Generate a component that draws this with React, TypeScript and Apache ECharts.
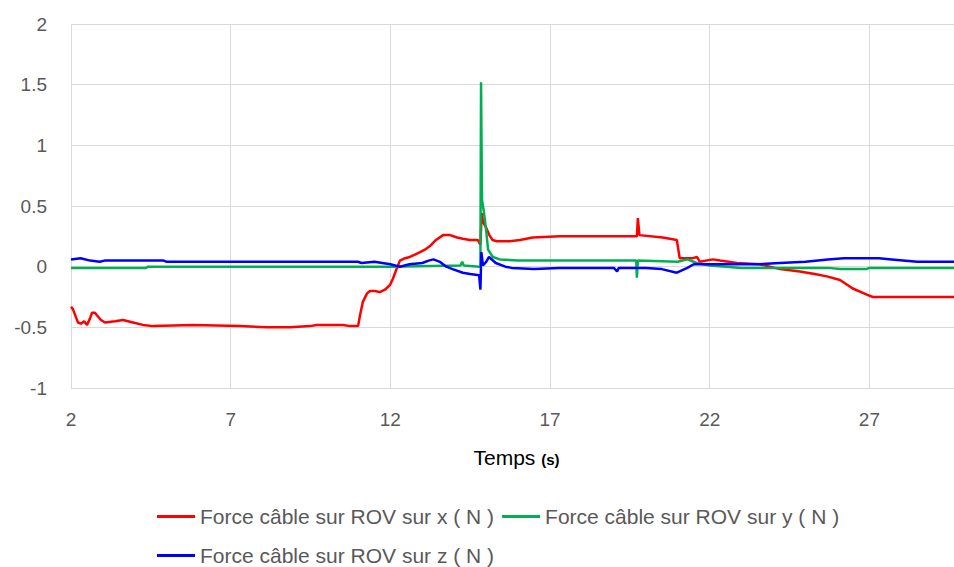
import React, { useEffect, useRef } from "react";
import * as echarts from "echarts";

// time (s) and force (N) for each series
const xTime = [2.0, 2.06, 2.16, 2.22, 2.31, 2.41, 2.5, 2.59, 2.66, 2.75, 2.81, 2.94, 3.06, 3.38, 3.63, 3.94, 4.25, 4.57, 5.82, 7.29, 8.14, 8.86, 9.48, 9.7, 10.52, 10.74, 10.99, 11.05, 11.14, 11.27, 11.36, 11.52, 11.67, 11.83, 11.99, 12.08, 12.18, 12.3, 12.46, 12.61, 12.77, 12.93, 13.08, 13.24, 13.43, 13.65, 13.87, 14.09, 14.27, 14.49, 14.74, 14.82, 14.86, 14.88, 14.92, 15.0, 15.1, 15.2, 15.34, 15.74, 16.06, 16.46, 17.31, 18.56, 19.72, 19.75, 19.8, 20.53, 20.97, 21.06, 21.47, 21.6, 21.69, 22.1, 22.32, 22.85, 23.57, 24.2, 24.82, 25.29, 25.67, 26.08, 26.48, 26.92, 27.11, 29.65];
const xForce = [-0.33, -0.35, -0.42, -0.46, -0.47, -0.45, -0.48, -0.43, -0.38, -0.38, -0.4, -0.44, -0.46, -0.45, -0.44, -0.46, -0.48, -0.49, -0.48, -0.49, -0.5, -0.5, -0.49, -0.48, -0.48, -0.49, -0.49, -0.4, -0.29, -0.22, -0.2, -0.2, -0.21, -0.19, -0.15, -0.1, -0.03, 0.05, 0.07, 0.08, 0.1, 0.12, 0.14, 0.17, 0.22, 0.26, 0.26, 0.24, 0.23, 0.22, 0.22, 0.18, 0.44, 0.4, 0.36, 0.32, 0.26, 0.22, 0.21, 0.21, 0.22, 0.24, 0.25, 0.25, 0.25, 0.4, 0.26, 0.24, 0.22, 0.07, 0.07, 0.08, 0.04, 0.06, 0.05, 0.03, 0.02, -0.02, -0.04, -0.06, -0.08, -0.11, -0.18, -0.23, -0.25, -0.25];

const yTime = [2.0, 4.35, 4.4, 12.0, 14.2, 14.25, 14.3, 14.78, 14.82, 14.84, 14.87, 14.93, 15.0, 15.06, 15.21, 15.43, 16.0, 17.3, 19.7, 19.72, 19.75, 21.0, 21.3, 21.6, 22.0, 23.0, 25.7, 26.1, 26.9, 27.0, 29.65];
const yForce = [-0.01, -0.01, 0.0, 0.0, 0.01, 0.04, 0.01, 0.0, 0.0, 1.52, 0.55, 0.45, 0.3, 0.14, 0.08, 0.06, 0.05, 0.05, 0.05, -0.09, 0.05, 0.04, 0.06, 0.03, 0.01, -0.01, -0.01, -0.02, -0.02, -0.01, -0.01];

const zTime = [2.0, 2.3, 2.6, 2.9, 3.05, 4.9, 5.0, 10.98, 11.1, 11.5, 12.0, 12.3, 12.6, 13.0, 13.2, 13.35, 13.55, 13.75, 13.95, 14.27, 14.5, 14.78, 14.82, 14.85, 14.9, 15.0, 15.09, 15.3, 15.6, 15.8, 16.5, 17.3, 19.0, 19.1, 19.15, 20.0, 20.5, 20.97, 21.3, 21.5, 23.5, 24.2, 25.0, 25.7, 26.2, 27.3, 27.7, 28.5, 29.65];
const zForce = [0.06, 0.07, 0.05, 0.04, 0.05, 0.05, 0.04, 0.04, 0.03, 0.04, 0.02, 0.0, 0.02, 0.03, 0.05, 0.06, 0.04, 0.0, -0.02, -0.05, -0.06, -0.07, -0.19, 0.12, 0.01, 0.04, 0.08, 0.03, 0.0, -0.01, -0.02, -0.01, -0.01, -0.04, -0.01, -0.01, -0.02, -0.05, -0.01, 0.02, 0.02, 0.03, 0.04, 0.06, 0.07, 0.07, 0.06, 0.04, 0.04];

const seriesNames = [
  "Force câble sur ROV sur x ( N )",
  "Force câble sur ROV sur y ( N )",
  "Force câble sur ROV sur z ( N )",
];
const seriesColors = ["#ff0000", "#00b050", "#0000ff"];
const xTicksStart = 2;
const xMaxTime = 29.65;
const yTickLabels = ["-1", "-0.5", "0", "0.5", "1", "1.5", "2"];

const FONT = "'Liberation Sans', Arial, sans-serif";

export default function App() {
  const ref = useRef<HTMLDivElement>(null);
  useEffect(() => {
    if (!ref.current) return;
    const chart = echarts.init(ref.current, null, { renderer: "svg" });
    const pairs = (ts: number[], vs: number[]) => ts.map((t, i) => [t - xTicksStart, vs[i]]);
    const datasets = [pairs(xTime, xForce), pairs(yTime, yForce), pairs(zTime, zForce)];
    const order = [0, 2, 1];
    const legendText = { color: "#595959", fontSize: 21, fontFamily: FONT, lineHeight: 21 };
    chart.setOption({
      animation: false,
      backgroundColor: "#ffffff",
      textStyle: { fontFamily: FONT },
      grid: { left: 71, right: 0, top: 24, bottom: 179 },
      xAxis: {
        type: "value",
        min: 0,
        max: xMaxTime - xTicksStart,
        interval: 5,
        axisLine: { show: true, lineStyle: { color: "#d9d9d9", width: 1 } },
        axisTick: { show: false },
        splitLine: { show: true, lineStyle: { color: "#d9d9d9", width: 1 } },
        axisLabel: {
          color: "#595959",
          fontSize: 19,
          fontFamily: FONT,
          margin: 22,
          showMaxLabel: false,
          formatter: (v: number) => String(Math.round(v + xTicksStart)),
        },
        name: "Temps {s|(s)}",
        nameLocation: "middle",
        nameGap: 59,
        nameTextStyle: {
          color: "#000000",
          fontSize: 21,
          fontFamily: FONT,
          padding: [0, 0, 0, 8],
          rich: { s: { fontSize: 15, fontWeight: "bold", color: "#000000", fontFamily: FONT, padding: [3, 0, 0, 0] } },
        },
      },
      yAxis: {
        type: "value",
        min: -1,
        max: 2,
        interval: 0.5,
        axisLine: { show: false },
        axisTick: { show: false },
        splitLine: { show: true, lineStyle: { color: "#d9d9d9", width: 1 } },
        axisLabel: {
          color: "#595959",
          fontSize: 19,
          fontFamily: FONT,
          margin: 24,
          formatter: (v: number) => {
            const idx = Math.round((v + 1) / 0.5);
            return yTickLabels[idx] ?? String(v);
          },
        },
      },
      legend: [
        {
          data: [seriesNames[0], seriesNames[1]],
          left: 157,
          top: 506,
          icon: "rect",
          itemWidth: 38,
          itemHeight: 3,
          itemGap: 8,
          padding: 0,
          textStyle: legendText,
        },
        {
          data: [seriesNames[2]],
          left: 157,
          top: 545,
          icon: "rect",
          itemWidth: 38,
          itemHeight: 3,
          padding: 0,
          textStyle: legendText,
        },
      ],
      series: order.map((i) => ({
        name: seriesNames[i],
        type: "line",
        data: datasets[i],
        showSymbol: false,
        symbol: "none",
        color: seriesColors[i],
        lineStyle: { color: seriesColors[i], width: 2.5 },
        z: 3 + i,
      })),
    });
    return () => chart.dispose();
  }, []);
  return (
    <div
      ref={ref}
      style={{ position: "fixed", left: 0, top: 0, width: 954, height: 567, background: "#fff" }}
    />
  );
}
